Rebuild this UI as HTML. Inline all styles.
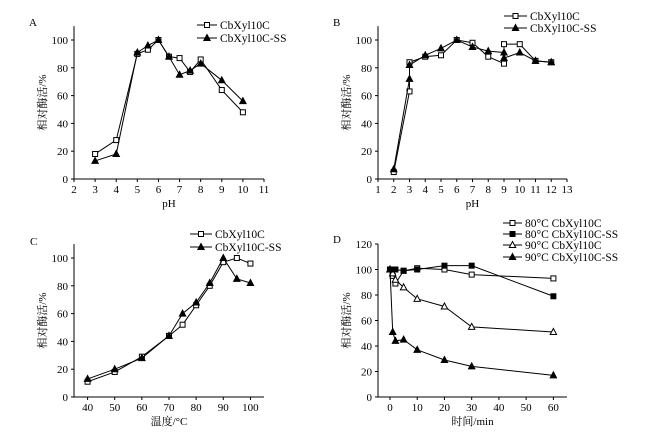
<!DOCTYPE html>
<html><head><meta charset="utf-8"><style>
html,body{margin:0;padding:0;background:#fff;}
svg{display:block;font-family:"Liberation Serif","Noto Serif CJK SC",serif;}
</style></head><body>
<svg id="fig" width="663" height="434" viewBox="0 0 663 434"></svg>
<script>
// Panel A data
const aX=[3,4,5,5.5,6,6.5,7,7.5,8,9,10];
const aSq=[18,28,90,93,100,88,87,77,86,64,48];
const aTri=[13,18,91,96,100,88,75,78,83,71,56];
const aTicksX=[2,3,4,5,6,7,8,9,10,11];
// Panel B data
const bX=[2,3,3,4,5,6,7,8,9,9,10,11,12];
const bSq=[5,63,84,88,89,100,98,88,83,97,97,85,84];
const bTri=[7,72,82,89,94,100,95,92,91,87,91,85,84];
const bTicksX=[1,2,3,4,5,6,7,8,9,10,11,12,13];
// Panel C data
const cX=[40,50,60,70,75,80,85,90,95,100];
const cSq=[11,18,29,44,52,66,80,97,100,96];
const cTri=[13,20,28,44,60,68,82,100,85,82];
const cTicksX=[40,50,60,70,80,90,100];
// Panel D data
const dX=[0,1,2,5,10,20,30,60];
const d80=[100,95,89,99,101,100,96,93];
const d80SS=[100,100,100,99,100,103,103,79];
const d90=[100,97,92,86,77,71,55,51];
const d90SS=[100,51,44,45,37,29,24,17];
const dTicksX=[0,10,20,30,40,50,60];
const yTicks100=[0,20,40,60,80,100];
const yTicks120=[0,20,40,60,80,100,120];

const NS='http://www.w3.org/2000/svg';
const svg=document.getElementById('fig');
function el(tag,attrs,parent,text){const e=document.createElementNS(NS,tag);for(const k in attrs)e.setAttribute(k,attrs[k]);if(text!==undefined)e.textContent=text;(parent||svg).appendChild(e);return e;}

function marker(g,type,x,y){
  let m;
  if(type==='osq'||type==='fsq'){m=el('rect',{x:x-2.5,y:y-2.5,width:5,height:5,fill:type==='fsq'?'#000':'#fff',stroke:'#000','stroke-width':1},g);}
  else{m=el('polygon',{points:`${x},${y-3.5} ${x+3.2},${y+2.5} ${x-3.2},${y+2.5}`,fill:type==='ftri'?'#000':'#fff',stroke:'#000','stroke-width':1},g);}
  
  
}

function panel(p){
  const g=el('g',{},svg);
  
  
  const sx=v=>p.x0+(v-p.xmin)*(p.x1-p.x0)/(p.xmax-p.xmin);
  const sy=v=>p.y0-(v)*(p.y0-p.y100)/100;
  const ax=el('line',{x1:p.x0,y1:sy(0),x2:p.x1,y2:sy(0),stroke:'#000','stroke-width':1},g);
  
  const ay=el('line',{x1:p.x0,y1:sy(0),x2:p.x0,y2:sy(p.ytop),stroke:'#000','stroke-width':1},g);
  
  p.yt.forEach(v=>{
    el('line',{x1:p.x0-3,y1:sy(v),x2:p.x0,y2:sy(v),stroke:'#000'},g);
    const t=el('text',{x:p.x0-6,y:sy(v)+4,'text-anchor':'end','font-size':11},g,v);
    
  });
  p.xt.forEach(v=>{
    el('line',{x1:sx(v),y1:sy(0),x2:sx(v),y2:sy(0)+3,stroke:'#000'},g);
    const t=el('text',{x:sx(v),y:sy(0)+14,'text-anchor':'middle','font-size':11},g,v);
    
  });
  const lab=el('text',{x:p.lx,y:p.ly,'font-size':11},g,p.letter);
  
  const xt=el('text',{x:(p.x0+p.x1)/2,y:sy(0)+28,'text-anchor':'middle','font-size':11},g,p.xlabel);
  
  const cy=(sy(0)+sy(p.ytop))/2;
  const yt=el('text',{x:0,y:0,'text-anchor':'middle','font-size':11,transform:`translate(${p.x0-28},${cy}) rotate(-90)`},g,'相对酶活/%');
  
  p.series.forEach((s,i)=>{
    const pts=s.y.map((v,j)=>sx(p.xs[j])+','+sy(v)).join(' ');
    const pl=el('polyline',{points:pts,fill:'none',stroke:'#000','stroke-width':1},g);
    
    s.y.forEach((v,j)=>marker(g,s.m,sx(p.xs[j]),sy(v)));
    const ly=p.legY[i];
    const lg=el('g',{},g);
    
    el('line',{x1:p.legX,y1:ly,x2:p.legX+p.legW,y2:ly,stroke:'#000'},lg);
    marker(lg,s.m,p.legX+p.legW/2,ly);
    el('text',{x:p.legX+p.legW+3,y:ly+4,'font-size':11.5},lg,s.label);
  });
}

panel({name:'panel-a',letter:'A',lx:29,ly:26,x0:74,x1:264,xmin:2,xmax:11,y0:179,y100:40,ytop:110,
  yt:yTicks100,xt:aTicksX,xlabel:'pH',xs:aX,legX:197,legW:20,legY:[25,38],
  series:[{y:aSq,m:'osq',label:'CbXyl10C'},{y:aTri,m:'ftri',label:'CbXyl10C-SS'}]});
panel({name:'panel-b',letter:'B',lx:333,ly:26,x0:378,x1:567,xmin:1,xmax:13,y0:179,y100:40,ytop:110,
  yt:yTicks100,xt:bTicksX,xlabel:'pH',xs:bX,legX:504,legW:23,legY:[16,28],
  series:[{y:bSq,m:'osq',label:'CbXyl10C'},{y:bTri,m:'ftri',label:'CbXyl10C-SS'}]});
panel({name:'panel-c',letter:'C',lx:30,ly:245,x0:74,x1:264,xmin:35,xmax:105,y0:397,y100:258,ytop:110,
  yt:yTicks100,xt:cTicksX,xlabel:'温度/°C',xs:cX,legX:190,legW:22,legY:[234,247],
  series:[{y:cSq,m:'osq',label:'CbXyl10C'},{y:cTri,m:'ftri',label:'CbXyl10C-SS'}]});
panel({name:'panel-d',letter:'D',lx:333,ly:243,x0:378,x1:567,xmin:-4.4,xmax:65,y0:397,y100:269.5,ytop:120,
  yt:yTicks120,xt:dTicksX,xlabel:'时间/min',xs:dX,legX:503,legW:19,legY:[223,234,245,257],
  series:[{y:d80,m:'osq',label:'80°C CbXyl10C'},{y:d80SS,m:'fsq',label:'80°C CbXyl10C-SS'},
          {y:d90,m:'otri',label:'90°C CbXyl10C'},{y:d90SS,m:'ftri',label:'90°C CbXyl10C-SS'}]});
</script>
</body></html>
